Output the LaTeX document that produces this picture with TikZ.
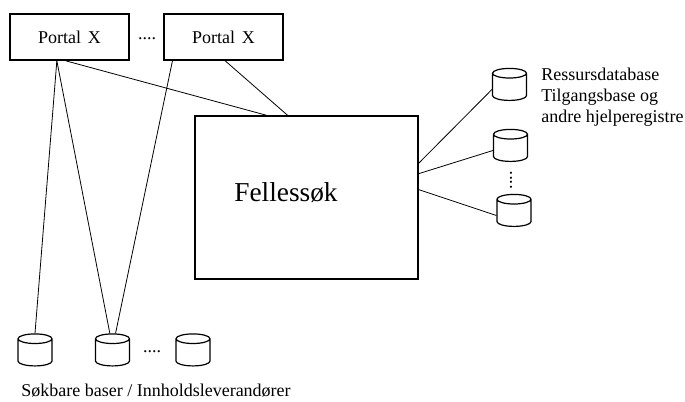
\documentclass[tikz,border=0pt]{standalone}
\usepackage{fontspec}
\setmainfont{Liberation Serif}
\usetikzlibrary{shapes.geometric}
\tikzset{portalbox/.style={rectangle, draw, line width=1.2pt, minimum width=89pt, minimum height=34.5pt, inner sep=0pt, font=\fontsize{13.5}{16}\selectfont},
  mainbox/.style={rectangle, draw, line width=1.4pt, minimum width=167pt, minimum height=122pt, inner sep=0pt},
  basenode/.style={cylinder, shape border rotate=90, shape aspect=0.3, draw, line width=0.9pt, minimum width=25.5pt, minimum height=24pt, inner xsep=12pt, inner ysep=7.5pt},
  labeltext/.style={inner sep=0pt, font=\fontsize{13.5}{15.8}\selectfont}}
\newcommand{\skportal}[2] {\node at (#1) (#2) [portalbox] {Portal\hspace{5pt}X};}
\newcommand{\skbase}[2] {\node at (#1) (#2) [basenode] {};}
\newcommand{\sklink}[2] {\draw [line width=0.6pt] (#1) -- (#2);}
\begin{document}
\begin{tikzpicture}[x=0.75pt,y=-0.75pt]
\useasboundingbox (0,0) rectangle (685,401);
\skportal {69.5,37} {portala};
\skportal {223.5,37} {portalb};
\node at (306.5,197.5) (felles) [mainbox] {};
\node at (286,193) (fellestext) [inner sep=0pt, font=\fontsize{20.5}{24}\selectfont] {Fellessøk};

\skbase {509.5,89.5} {hjelpa};
\skbase {510.5,150.5} {hjelpb};
\skbase {514,215.5} {hjelpc};
\skbase {35,355} {basea};
\skbase {112.5,355} {baseb};
\skbase {193,355} {basec};

\sklink{portala.-118}{basea.north};
\sklink{portala.-118}{baseb.97};
\sklink{portalb.-155}{baseb.82};
\sklink{portala.-99}{felles.116};
\sklink{portalb.-86}{felles.103};

\sklink{felles.17}{hjelpa.west};
\sklink{felles.12}{hjelpb.west};
\sklink{felles.4}{hjelpc.west};

\node at (147,39) (dotsa) [labeltext] {....};
\node at (152,352) (dotsb) [labeltext] {....};
\node at (511,180) (dotsc) [labeltext, rotate=90] {....};
\node at (541,97) (hjelptext) [labeltext, anchor=west, align=left] {Ressursdatabase\\Tilgangsbase og\\andre hjelperegistre};
\node at (156,391) (basetext) [labeltext] {Søkbare baser / Innholdsleverandører};
\end{tikzpicture}
\end{document}
